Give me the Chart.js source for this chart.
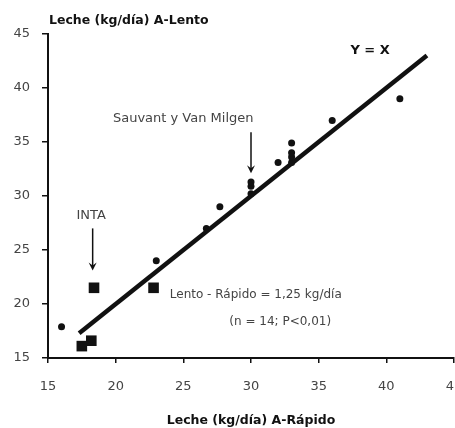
<!DOCTYPE html>
<html>
<head>
<meta charset="utf-8">
<script src="https://cdn.jsdelivr.net/npm/chart.js@4.4.1/dist/chart.umd.min.js"></script>
<style>
  html, body { margin: 0; padding: 0; background: #fff; overflow: hidden; }
  #wrap { width: 470px; height: 428px; }
</style>
</head>
<body>
<div id="wrap"><canvas id="chart" width="470" height="428"></canvas></div>
<script>
// Datos (kg/día)
const xTicks = [15, 20, 25, 30, 35, 40, 45];
const yTicks = [15, 20, 25, 30, 35, 40, 45];

// Círculos
const circleX = [16.0, 23.0, 26.7, 27.7, 30.0, 30.0, 30.0, 32.0, 33.0, 33.0, 33.0, 33.0, 36.0, 41.0];
const circleY = [17.9, 24.0, 27.0, 29.0, 30.2, 30.9, 31.3, 33.1, 33.1, 33.6, 34.0, 34.9, 37.0, 39.0];

// Cuadrados (INTA)
const squareX = [17.5, 18.2, 18.4, 22.8];
const squareY = [16.1, 16.6, 21.5, 21.5];

// Recta Y = X
const lineX = [17.3, 43.0];
const lineY = [17.3, 43.0];

const toPoints = (xs, ys) => xs.map((x, i) => ({ x: x, y: ys[i] }));

const FONT = "'DejaVu Sans', sans-serif";

// Textos y flechas dibujados en coordenadas de datos
const notes = [
  { text: 'Y = X', x: 38.8, y: 43.5, font: 'bold 13px ' + FONT, color: '#111', align: 'center' },
  { text: 'Sauvant y Van Milgen', x: 19.8, y: 37.2, font: '13px ' + FONT, color: '#444', align: 'left' },
  { text: 'INTA', x: 17.1, y: 28.2, font: '13px ' + FONT, color: '#444', align: 'left' },
  { text: 'Lento - Rápido = 1,25 kg/día', x: 24.0, y: 20.8, font: '12px ' + FONT, color: '#444', align: 'left' },
  { text: '(n = 14; P<0,01)', x: 28.4, y: 18.3, font: '12px ' + FONT, color: '#444', align: 'left' }
];
const arrows = [
  { x: 30.0, y1: 35.9, y2: 32.1 },
  { x: 18.3, y1: 27.0, y2: 23.1 }
];

const annotations = {
  id: 'annotations',
  afterDraw(chart) {
    const ctx = chart.ctx;
    const xs = chart.scales.x, ys = chart.scales.y;
    ctx.save();
    // Título del eje Y arriba a la izquierda
    ctx.font = 'bold 12.5px ' + FONT;
    ctx.fillStyle = '#111';
    ctx.textAlign = 'left';
    ctx.textBaseline = 'middle';
    ctx.fillText('Leche (kg/día) A-Lento', 49, 21);

    notes.forEach(n => {
      ctx.font = n.font;
      ctx.fillStyle = n.color;
      ctx.textAlign = n.align;
      ctx.fillText(n.text, xs.getPixelForValue(n.x), ys.getPixelForValue(n.y));
    });

    ctx.strokeStyle = '#111';
    ctx.fillStyle = '#111';
    ctx.lineWidth = 1.5;
    arrows.forEach(a => {
      const px = xs.getPixelForValue(a.x);
      const p1 = ys.getPixelForValue(a.y1);
      const p2 = ys.getPixelForValue(a.y2);
      ctx.beginPath();
      ctx.moveTo(px, p1);
      ctx.lineTo(px, p2 - 4);
      ctx.stroke();
      ctx.beginPath();
      ctx.moveTo(px - 4, p2 - 8);
      ctx.lineTo(px, p2);
      ctx.lineTo(px + 4, p2 - 8);
      ctx.lineTo(px, p2 - 5);
      ctx.closePath();
      ctx.fill();
    });
    ctx.restore();
  }
};

Chart.defaults.font.family = FONT;
Chart.defaults.color = '#444';

new Chart(document.getElementById('chart'), {
  type: 'scatter',
  data: {
    datasets: [
      {
        type: 'line',
        label: 'Y = X',
        data: toPoints(lineX, lineY),
        borderColor: '#111',
        borderWidth: 4.5,
        pointRadius: 0,
        order: 0
      },
      {
        label: 'Círculos',
        data: toPoints(circleX, circleY),
        backgroundColor: '#111',
        borderWidth: 0,
        pointStyle: 'circle',
        pointRadius: 3.5,
        order: 1
      },
      {
        label: 'INTA',
        data: toPoints(squareX, squareY),
        backgroundColor: '#111',
        borderWidth: 0,
        pointStyle: 'rect',
        pointRadius: 7.5,
        order: 1
      }
    ]
  },
  options: {
    responsive: false,
    animation: false,
    layout: { padding: { top: 34, right: 16, left: 0, bottom: 0 } },
    plugins: {
      legend: { display: false },
      tooltip: { enabled: false }
    },
    scales: {
      x: {
        type: 'linear',
        min: 15,
        max: 45,
        afterBuildTicks: s => { s.ticks = xTicks.map(v => ({ value: v })); },
        afterFit: s => { s.height = 70; s.paddingLeft = 0; s.paddingRight = 0; },
        border: { color: '#111', width: 2 },
        grid: { drawOnChartArea: false, drawTicks: true, tickLength: 5, color: '#111', lineWidth: 1.5 },
        ticks: { font: { size: 13 }, color: '#444', padding: 16, maxRotation: 0 },
        title: {
          display: true,
          text: 'Leche (kg/día) A-Rápido',
          font: { size: 12.5, weight: 'bold' },
          color: '#111',
          padding: { top: 0, bottom: 0 }
        }
      },
      y: {
        type: 'linear',
        min: 15,
        max: 45,
        afterBuildTicks: s => { s.ticks = yTicks.map(v => ({ value: v })); },
        afterFit: s => { s.width = 48; },
        border: { color: '#111', width: 2 },
        grid: { drawOnChartArea: false, drawTicks: true, tickLength: 6, color: '#111', lineWidth: 1.5 },
        ticks: { font: { size: 13 }, color: '#444', padding: 12 }
      }
    }
  },
  plugins: [annotations]
});
</script>
</body>
</html>
